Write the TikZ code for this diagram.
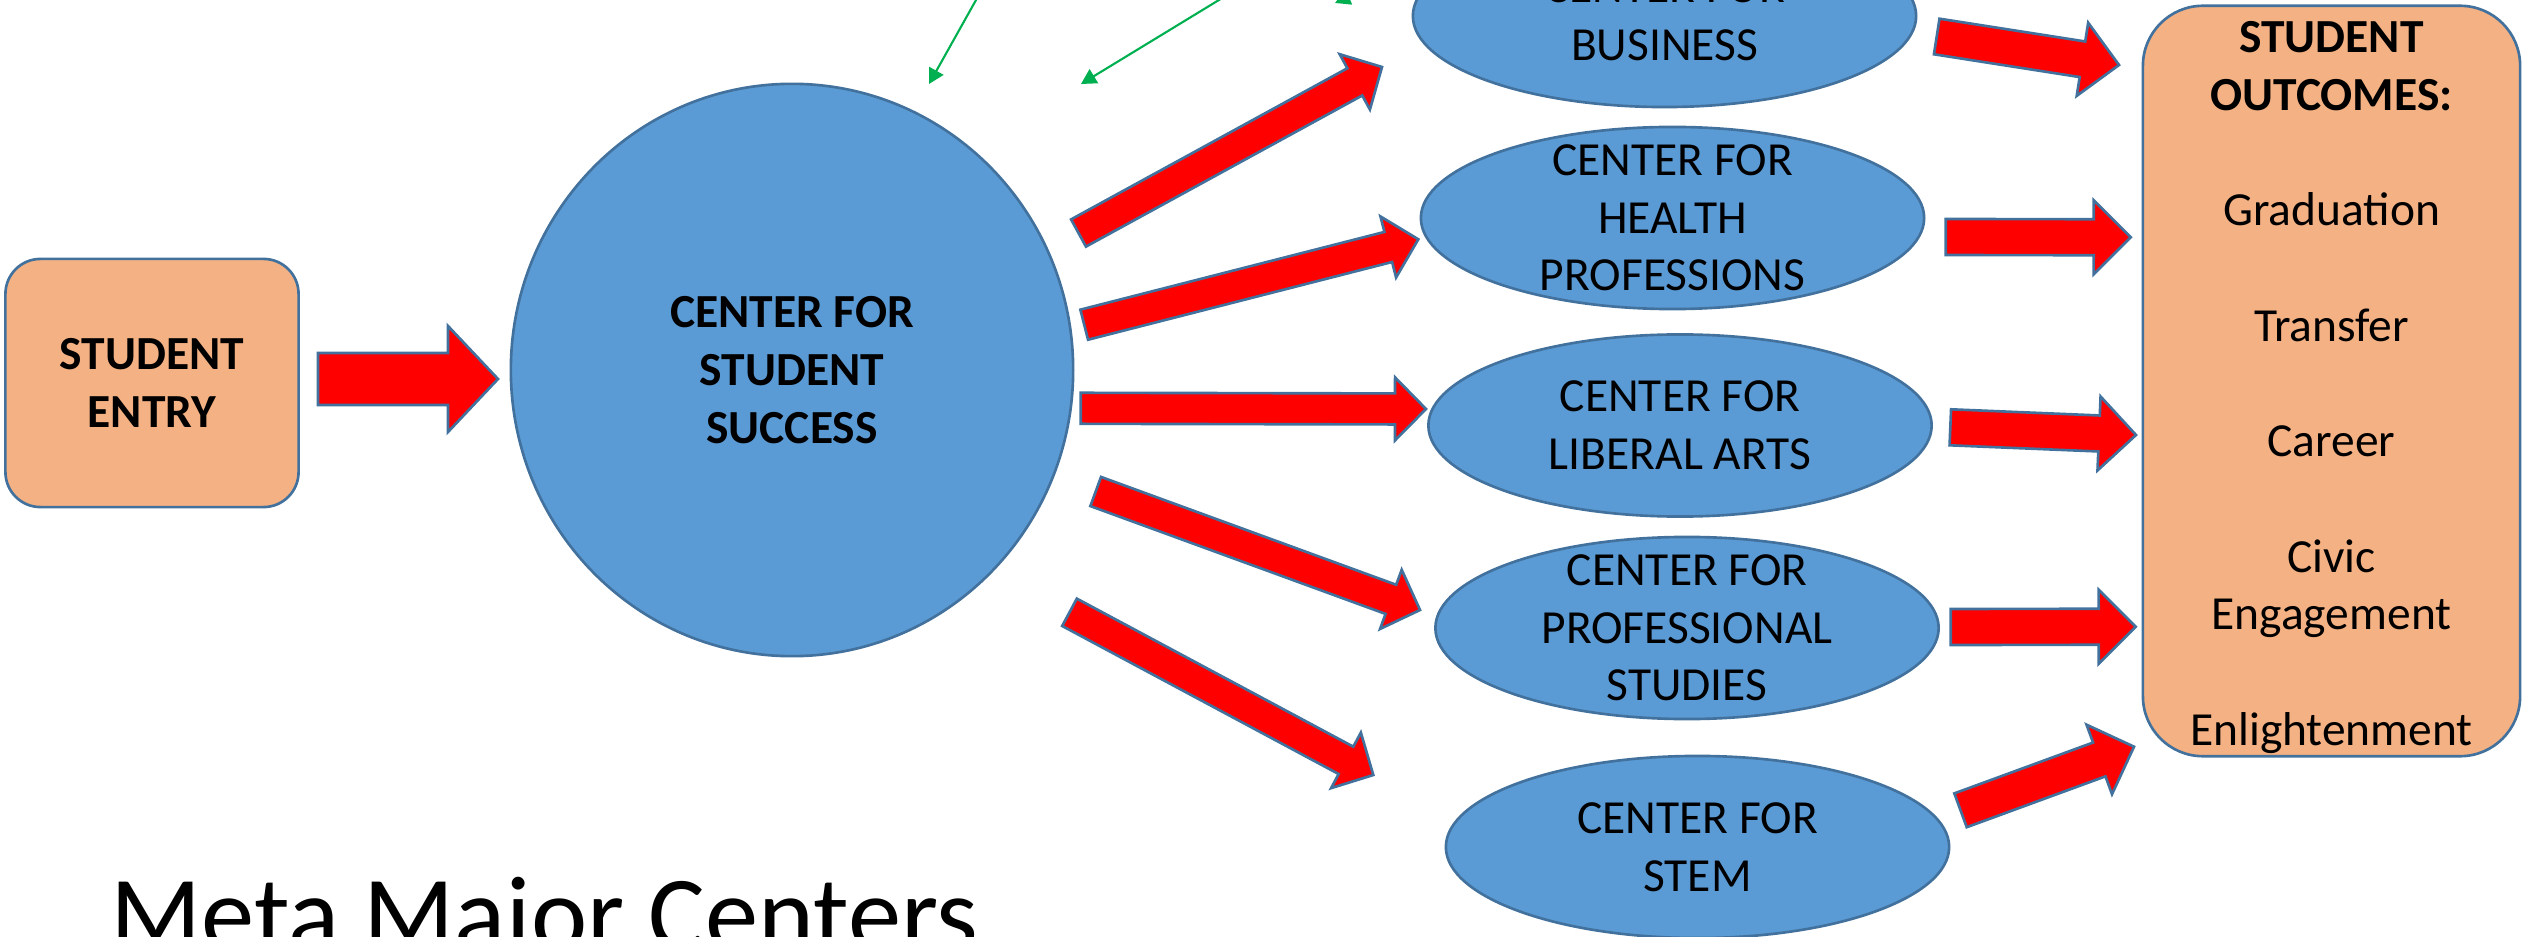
\documentclass[tikz,border=0pt]{standalone}
\usepackage{fontspec}
\setmainfont{Carlito}
\usetikzlibrary{shapes.geometric}
\usetikzlibrary{calc}
\usetikzlibrary {arrows.meta}
\definecolor{hubblue}{HTML}{5B9BD5}
\definecolor{edgeblue}{HTML}{41719C}
\definecolor{boxorange}{HTML}{F4B183}
\definecolor{linkgreen}{HTML}{00B050}
\newcommand{\basefont}{\fontsize{13.5pt}{16.4pt}\selectfont}
\tikzset{entrybox/.style={rectangle,rounded corners=0.35cm,draw=edgeblue,fill=boxorange,
line width=0.75pt,minimum width=2.93cm,minimum height=2.48cm,align=center,font=\basefont\bfseries}}
\tikzset{outcomebox/.style={rectangle,rounded corners=0.6cm,draw=edgeblue,fill=boxorange,
line width=0.75pt,minimum width=3.77cm,minimum height=7.5cm}}
\tikzset{outcometext/.style={inner sep=0pt,align=center,font=\basefont}}
\tikzset{hub/.style={ellipse,draw=edgeblue,fill=hubblue,
line width=0.75pt,minimum width=5.62cm,minimum height=5.72cm,align=center,font=\basefont\bfseries}}
\tikzset{metaellipse/.style={ellipse,draw=edgeblue,fill=hubblue,
line width=0.75pt,minimum width=5.03cm,minimum height=1.82cm}}
\tikzset{metatext/.style={inner sep=0pt,align=center,font=\basefont}}
\tikzset{titletext/.style={anchor=base west,inner sep=0pt,font=\fontsize{30.3pt}{36pt}\selectfont}}
\tikzset{fatarrow/.style={fill=red,draw=edgeblue,line width=0.75pt,line join=miter}}
\tikzset{thinarrow/.style={draw=linkgreen,line width=0.6pt,-{Triangle[length=4.3pt,width=4.6pt]}}}
% from, to, half shaft, half head, head length
\newcommand{\blockarrow}[5]{
  \coordinate (fa-s) at (#1);
  \coordinate (fa-t) at (#2);
  \coordinate (fa-h) at ($(fa-t)!#5!(fa-s)$);
  \draw[fatarrow] ($(fa-s)!#3!90:(fa-t)$) -- ($(fa-h)!#3!90:(fa-t)$) -- ($(fa-h)!#4!90:(fa-t)$)
    -- (fa-t) -- ($(fa-h)!#4!-90:(fa-t)$) -- ($(fa-h)!#3!-90:(fa-t)$) -- ($(fa-s)!#3!-90:(fa-t)$) -- cycle;
}

\begin{document}
\begin{tikzpicture}[x=0.01cm,y=-0.01cm]
        \useasboundingbox (0,0) rectangle (2522,937);

        \node[entrybox] (entry) at (152,383) {STUDENT\\ENTRY};
        \node[hub] (hub) at (792,370) {CENTER FOR\\STUDENT\\SUCCESS};

        \node[metaellipse] (bus) at (1664.5,16) {};
        \node[metatext] (busT) at (bus) {CENTER FOR\\BUSINESS};
        \node[metaellipse] (hlth) at (1672.5,218) {};
        \node[metatext] (hlthT) at (hlth) {CENTER FOR\\HEALTH\\PROFESSIONS};
        \node[metaellipse] (lib) at (1680,425.5) {};
        \node[metatext] (libT) at (lib) {CENTER FOR\\LIBERAL ARTS};
        \node[metaellipse] (prof) at (1687,628) {};
        \node[metatext] (profT) at (prof) {CENTER FOR\\PROFESSIONAL\\STUDIES};
        \node[metaellipse] (stem) at (1697.5,847) {};
        \node[metatext] (stemT) at (stem) {CENTER FOR\\STEM};

        \node[outcomebox] (outc) at (2331.5,381) {};
        \node[outcometext] (outcT) at ([yshift=-0.065cm]outc) {\textbf{STUDENT}\\\textbf{OUTCOMES:}\\[16.4pt]
          Graduation\\[16.4pt]Transfer\\[16.4pt]Career\\[16.4pt]Civic\\Engagement\\[16.4pt]Enlightenment};

        \node[titletext] (title) at (110,950) {Meta Major Centers};

        \coordinate (entryR) at (318,379);
        \coordinate (hubL) at (498,379);
        \blockarrow{entryR}{hubL}{0.26cm}{0.53cm}{0.5cm}

        \coordinate (hubBus) at (1078.5,233);
        \coordinate (busL) at (1382,67);
        \blockarrow{hubBus}{busL}{0.155cm}{0.315cm}{0.31cm}
        \coordinate (hubHlth) at (1084.2,324.7);
        \coordinate (hlthL) at (1418.3,239.3);
        \blockarrow{hubHlth}{hlthL}{0.155cm}{0.315cm}{0.31cm}
        \coordinate (hubLib) at (1080.7,408.3);
        \coordinate (libL) at (1426,409);
        \blockarrow{hubLib}{libL}{0.155cm}{0.315cm}{0.31cm}
        \coordinate (hubProf) at (1095.7,491.5);
        \coordinate (profL) at (1420,610);
        \blockarrow{hubProf}{profL}{0.155cm}{0.315cm}{0.31cm}
        \coordinate (hubStem) at (1069.5,612.3);
        \coordinate (stemL) at (1373.3,775);
        \blockarrow{hubStem}{stemL}{0.155cm}{0.315cm}{0.31cm}

        \coordinate (busR) at (1936.7,36.5);
        \coordinate (outcBus) at (2119,65);
        \blockarrow{busR}{outcBus}{0.18cm}{0.37cm}{0.37cm}
        \coordinate (hlthR) at (1945.7,237);
        \coordinate (outcHlth) at (2130.7,237.3);
        \blockarrow{hlthR}{outcHlth}{0.18cm}{0.37cm}{0.37cm}
        \coordinate (libR) at (1950.3,427.3);
        \coordinate (outcLib) at (2136,435);
        \blockarrow{libR}{outcLib}{0.18cm}{0.37cm}{0.37cm}
        \coordinate (profR) at (1950.7,627);
        \coordinate (outcProf) at (2135.7,626.7);
        \blockarrow{profR}{outcProf}{0.18cm}{0.37cm}{0.37cm}
        \coordinate (stemR) at (1960.5,810.3);
        \coordinate (outcStem) at (2134,746.7);
        \blockarrow{stemR}{outcStem}{0.18cm}{0.37cm}{0.37cm}

        \coordinate (linkA) at (990,-25);
        \coordinate (hubNa) at (929,84);
        \draw[thinarrow] (linkA) -- (hubNa);
        \coordinate (linkB) at (1260,-25);
        \coordinate (hubNb) at (1081,84);
        \draw[thinarrow] (linkB) -- (hubNb);
        \coordinate (linkC) at (1480,-60);
        \coordinate (busN) at (1335,3);
        \draw[thinarrow] (linkC) -- (busN);

\end{tikzpicture}
\end{document}
